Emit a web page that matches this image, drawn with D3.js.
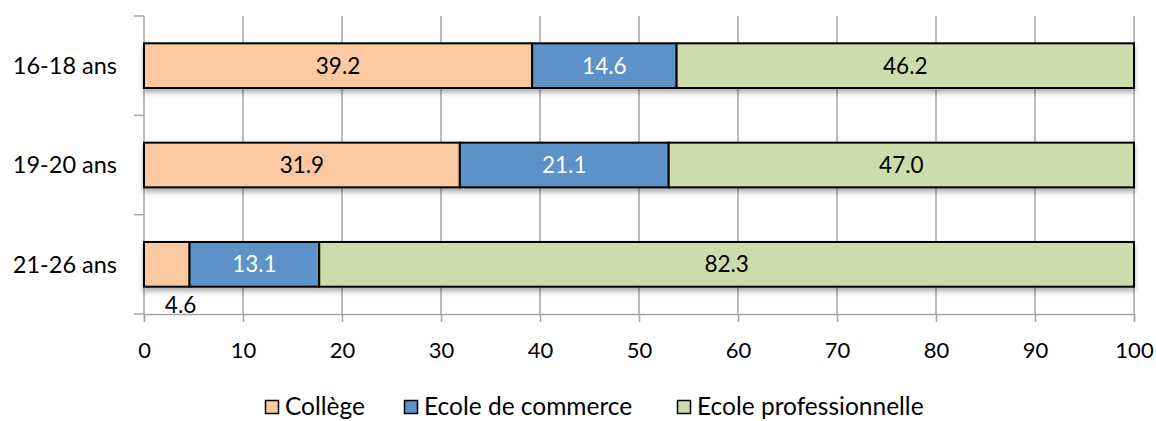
<!DOCTYPE html>
<html>
<head>
<meta charset="utf-8">
<script src="https://cdn.jsdelivr.net/npm/d3@7"></script>
<style>
  body { margin: 0; background: #fff; }
  svg { font-family: Lato, "Open Sans", sans-serif; }
</style>
</head>
<body>
<div id="chart"></div>
<script>
const categories = ['16-18 ans', '19-20 ans', '21-26 ans'];
const seriesNames = ['Collège', 'Ecole de commerce', 'Ecole professionnelle'];
const college = [39.2, 31.9, 4.6];
const commerce = [14.6, 21.1, 13.1];
const pro = [46.2, 47.0, 82.3];
const xTicks = [0, 10, 20, 30, 40, 50, 60, 70, 80, 90, 100];

const colors = ['#fac9a0', '#5b92c8', '#cddcaa'];
const textColors = ['#000', '#fff', '#000'];

const width = 1156;
const height = 421;
const margin = { top: 16, right: 22, bottom: 107, left: 144 };

const rows = categories.map((c, i) => ({ cat: c, values: [college[i], commerce[i], pro[i]] }));

const xScale = d3.scaleLinear().domain([0, 100]).range([margin.left, width - margin.right]);
const yScale = d3.scaleBand().domain(categories).range([margin.top, height - margin.bottom]).paddingInner(0.55).paddingOuter(0.275);

const svg = d3.select('#chart').append('svg')
  .attr('width', width)
  .attr('height', height);

const defs = svg.append('defs');
const shadow = defs.append('filter').attr('id', 'shadow').attr('x', '-5%').attr('y', '-20%').attr('width', '110%').attr('height', '160%');
shadow.append('feGaussianBlur').attr('in', 'SourceAlpha').attr('stdDeviation', 2.5);
shadow.append('feOffset').attr('dx', 0).attr('dy', 4).attr('result', 'blur');
shadow.append('feComponentTransfer').append('feFuncA').attr('type', 'linear').attr('slope', 0.3);
const merge = shadow.append('feMerge');
merge.append('feMergeNode');
merge.append('feMergeNode').attr('in', 'SourceGraphic');

// vertical grid lines
svg.append('g')
  .selectAll('line')
  .data(xTicks.slice(1))
  .enter()
  .append('line')
  .attr('x1', d => xScale(d))
  .attr('x2', d => xScale(d))
  .attr('y1', margin.top)
  .attr('y2', height - margin.bottom)
  .attr('stroke', '#a6a6a6')
  .attr('stroke-width', 1.5);

// x axis
const xAxis = d3.axisBottom(xScale).tickValues(xTicks).tickSize(8).tickPadding(20).tickFormat(d3.format('d'));
const gx = svg.append('g')
  .attr('transform', `translate(0,${height - margin.bottom})`)
  .call(xAxis);
gx.select('.domain').attr('stroke', '#a6a6a6').attr('stroke-width', 1.5);
gx.selectAll('.tick line').attr('stroke', '#a6a6a6').attr('stroke-width', 1.5);
gx.selectAll('.tick text').attr('font-size', 22).attr('fill', '#000').attr('font-family', 'Lato, "Open Sans", sans-serif');

// y axis (ticks at band boundaries)
const bandStep = yScale.step();
const yBounds = [0, 1, 2, 3].map(i => margin.top + i * bandStep);
const gy = svg.append('g');
gy.append('line')
  .attr('x1', margin.left).attr('x2', margin.left)
  .attr('y1', margin.top).attr('y2', height - margin.bottom)
  .attr('stroke', '#a6a6a6').attr('stroke-width', 1.5);
gy.selectAll('.ytick')
  .data(yBounds)
  .enter()
  .append('line')
  .attr('x1', margin.left - 10).attr('x2', margin.left)
  .attr('y1', d => d).attr('y2', d => d)
  .attr('stroke', '#a6a6a6').attr('stroke-width', 1.5);
gy.selectAll('text')
  .data(categories)
  .enter()
  .append('text')
  .attr('x', 117)
  .attr('y', d => yScale(d) + yScale.bandwidth() / 2)
  .attr('dy', '0.35em')
  .attr('text-anchor', 'end')
  .attr('font-size', 23.5)
  .text(d => d);

// stacked bars
const stacked = rows.map(r => {
  let acc = 0;
  return r.values.map((v, k) => {
    const seg = { cat: r.cat, k, v, x0: acc, x1: acc + v };
    acc += v;
    return seg;
  });
});

const barG = svg.append('g');
barG.selectAll('g')
  .data(stacked)
  .enter()
  .append('g')
  .attr('filter', 'url(#shadow)')
  .selectAll('rect')
  .data(d => d)
  .enter()
  .append('rect')
  .attr('x', d => xScale(d.x0))
  .attr('y', d => yScale(d.cat))
  .attr('width', d => xScale(d.x1) - xScale(d.x0))
  .attr('height', yScale.bandwidth())
  .attr('fill', d => colors[d.k])
  .attr('stroke', '#000')
  .attr('stroke-width', 2);

// value labels
const segs = stacked.flat();
svg.append('g')
  .selectAll('text')
  .data(segs)
  .enter()
  .append('text')
  .attr('x', d => (d.v < 8 ? xScale(d.x1) - 9 : (xScale(d.x0) + xScale(d.x1)) / 2))
  .attr('y', d => (d.v < 8 ? yScale(d.cat) + yScale.bandwidth() + 26 : yScale(d.cat) + yScale.bandwidth() / 2 + 8))
  .attr('text-anchor', 'middle')
  .attr('font-size', 22.5)
  .attr('fill', d => (d.v < 8 ? '#000' : textColors[d.k]))
  .text(d => d.v.toFixed(1));

// legend
const legendX = [265, 404, 677];
const legend = svg.append('g');
const li = legend.selectAll('g')
  .data(seriesNames)
  .enter()
  .append('g')
  .attr('transform', (d, i) => `translate(${legendX[i]},400)`);
li.append('rect')
  .attr('x', 0.5).attr('y', 0.5)
  .attr('width', 13).attr('height', 13)
  .attr('fill', (d, i) => colors[i])
  .attr('stroke', '#000')
  .attr('stroke-width', 1.5);
li.append('text')
  .attr('x', 20)
  .attr('y', 15)
  .attr('font-size', 24.5)
  .text(d => d);
</script>
</body>
</html>
